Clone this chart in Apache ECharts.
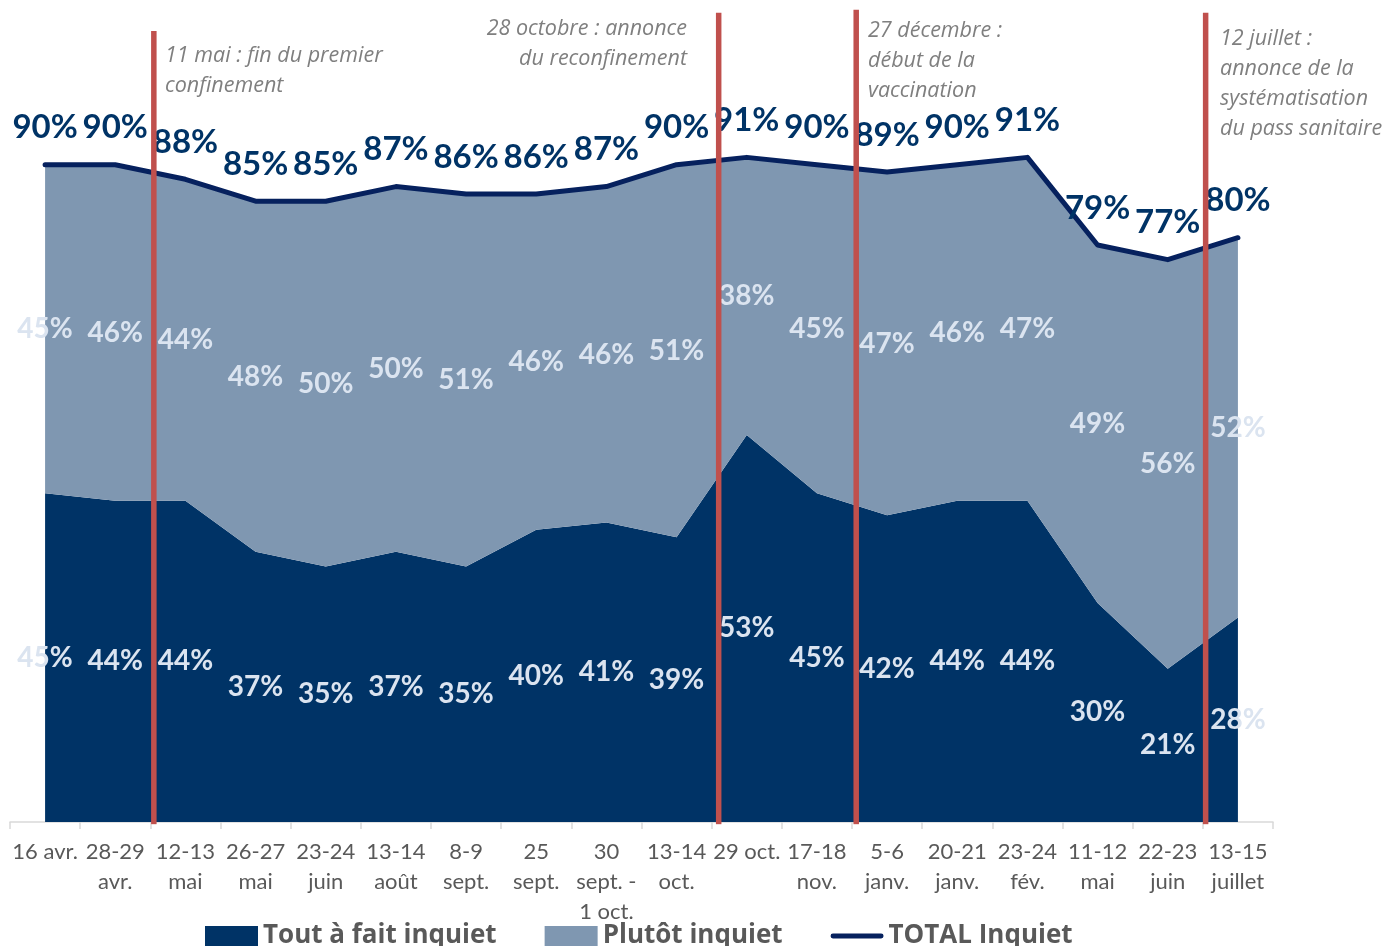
<!DOCTYPE html>
<html>
<head>
<meta charset="utf-8">
<script src="https://cdn.jsdelivr.net/npm/echarts@6/dist/echarts.min.js"></script>
<style>
  html, body { margin: 0; padding: 0; background: #fff; }
  #main { width: 1386px; height: 946px; }
</style>
</head>
<body>
<div id="main"></div>
<script>
const categories = ['16 avr.', '28-29\navr.', '12-13\nmai', '26-27\nmai', '23-24\njuin', '13-14\naoût',
  '8-9\nsept.', '25\nsept.', '30\nsept. -\n1 oct.', '13-14\noct.', '29 oct.', '17-18\nnov.',
  '5-6\njanv.', '20-21\njanv.', '23-24\nfév.', '11-12\nmai', '22-23\njuin', '13-15\njuillet'];
const toutAFait = [45, 44, 44, 37, 35, 37, 35, 40, 41, 39, 53, 45, 42, 44, 44, 30, 21, 28];
const plutot = [45, 46, 44, 48, 50, 50, 51, 46, 46, 51, 38, 45, 47, 46, 47, 49, 56, 52];
const totalInquiet = [90, 90, 88, 85, 85, 87, 86, 86, 87, 90, 91, 90, 89, 90, 91, 79, 77, 80];

// events (position in category units between two waves)
const eventPos = [1.55, 9.6, 11.56, 16.54];
const eventTop = [108.3, 110.8, 111.2, 110.8];
const eventText = [
  '11 mai : fin du premier\nconfinement',
  '28 octobre : annonce\ndu reconfinement',
  '27 décembre :\ndébut de la\nvaccination',
  '12 juillet :\nannonce de la\nsystématisation\ndu pass sanitaire'
];

const FONT = 'Lato, "Noto Sans", sans-serif';
const WIDE = '"Open Sans", "Noto Sans", sans-serif';
const DARK = '#003366';
const GREY = '#7f97b1';
const NAVY = '#06215e';
const RED = '#c0504d';
const INNER = '#dbe4f0';

var myChart = echarts.init(document.getElementById('main'));

// invisible points only used to carry the value labels
const labelSeries = (name, xs, ys, shown, lbl) => ({
  name: name,
  type: 'scatter',
  z: 6,
  symbolSize: 1,
  itemStyle: { color: 'rgba(0,0,0,0)', opacity: 1 },
  silent: true,
  data: xs.map((_, i) => [i, ys[i], shown[i]]),
  label: Object.assign({
    show: true,
    opacity: 1,
    formatter: p => p.value[2] + '%',
    fontFamily: FONT,
    fontWeight: 'bold'
  }, lbl)
});

const redSeries = eventPos.map((x, k) => ({
  name: 'event' + k,
  type: 'line',
  xAxisIndex: 1,
  z: 8,
  symbol: 'none',
  silent: true,
  lineStyle: { color: RED, width: 5.5 },
  data: [[x, -0.3], [x, eventTop[k]]]
}));

// annotation text positions
const notePos = [
  { left: 165, top: 41, align: 'left' },
  { left: 687, top: 14, align: 'right' },
  { left: 868, top: 16, align: 'left' },
  { left: 1220, top: 24, align: 'left' }
];

myChart.setOption({
  animation: false,
  grid: { left: 10, right: 113, top: 4, bottom: 124, containLabel: false },
  legend: {
    left: 205,
    top: 923,
    padding: 0,
    itemWidth: 53,
    itemHeight: 20,
    itemGap: 48,
    data: [
      { name: 'Tout à fait inquiet', icon: 'rect' },
      { name: 'Plutôt inquiet', icon: 'rect' },
      { name: 'TOTAL Inquiet', icon: 'path://M2.5,0 L52.5,0 A2.5,2.5 0 0 1 52.5,5 L2.5,5 A2.5,2.5 0 0 1 2.5,0 Z' }
    ],
    textStyle: { fontFamily: WIDE, fontWeight: 'bold', fontSize: 26, color: '#595959' }
  },
  xAxis: [
    {
      type: 'category',
      data: categories,
      boundaryGap: true,
      axisLine: { lineStyle: { color: '#d9d9d9', width: 1.5 } },
      axisTick: { show: true, length: 7, alignWithLabel: false, lineStyle: { color: '#d9d9d9', width: 1.5 } },
      axisLabel: {
        interval: 0,
        margin: 15,
        fontFamily: FONT,
        fontSize: 22,
        lineHeight: 30,
        color: '#595959'
      },
      splitLine: { show: false }
    },
    { type: 'value', min: -0.5, max: 17.5, show: false }
  ],
  yAxis: { type: 'value', min: 0, max: 112, show: false, splitLine: { show: false } },
  graphic: eventText.map((t, k) => ({
    type: 'text',
    left: notePos[k].align === 'left' ? notePos[k].left : null,
    right: notePos[k].align === 'right' ? 1386 - notePos[k].left : null,
    top: notePos[k].top,
    style: {
      text: t,
      fill: '#7f7f7f',
      font: 'italic 21.5px ' + WIDE,
      lineHeight: 30,
      textAlign: notePos[k].align
    }
  })),
  series: [
    {
      name: 'Tout à fait inquiet',
      type: 'line',
      stack: 'inquiet',
      symbol: 'none',
      lineStyle: { width: 0 },
      itemStyle: { color: DARK },
      areaStyle: { color: DARK, opacity: 1 },
      data: toutAFait
    },
    {
      name: 'Plutôt inquiet',
      type: 'line',
      stack: 'inquiet',
      symbol: 'none',
      lineStyle: { width: 0 },
      itemStyle: { color: GREY },
      areaStyle: { color: GREY, opacity: 1 },
      data: plutot
    },
    {
      name: 'TOTAL Inquiet',
      type: 'line',
      z: 5,
      symbol: 'none',
      itemStyle: { color: NAVY },
      lineStyle: { color: NAVY, width: 5, cap: 'round', join: 'round' },
      data: totalInquiet
    },
    labelSeries('total_lbl', totalInquiet, totalInquiet, totalInquiet,
      { position: 'top', distance: 20, color: DARK, fontSize: 33, lineHeight: 33 }),
    labelSeries('tout_lbl', toutAFait, toutAFait.map(v => v / 2), toutAFait,
      { position: 'inside', color: INNER, fontSize: 28 }),
    labelSeries('plutot_lbl', plutot, plutot.map((v, i) => toutAFait[i] + v / 2), plutot,
      { position: 'inside', color: INNER, fontSize: 28 })
  ].concat(redSeries)
});
</script>
</body>
</html>
